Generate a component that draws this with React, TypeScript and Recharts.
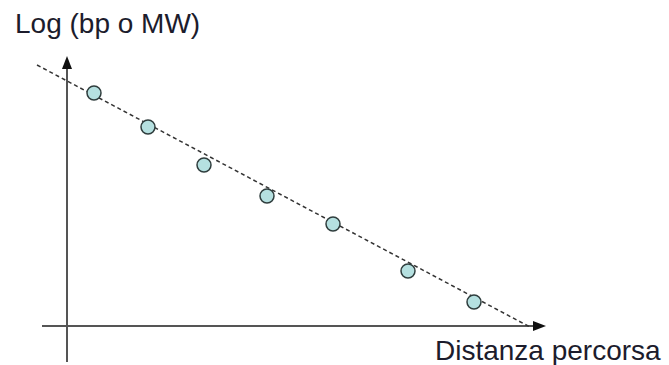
import React from "react";
import { ComposedChart, Scatter, XAxis, YAxis, ReferenceLine } from "recharts";

// distanza percorsa (x) vs log(bp o MW) (y), arbitrary units
const distanza = [2.7, 8.1, 13.7, 20.0, 26.6, 34.1, 40.7];
const logMW = [23.3, 19.9, 16.1, 13.0, 10.2, 5.5, 2.4];

// dashed fit line ends
const fitX = [-3.0, 46.3];
const fitY = [26.1, -0.1];

// axes extents
const xAxisRange = [-2.5, 47.9];
const yAxisRange = [-3.6, 27.0];

const yLabel = "Log (bp o MW)";
const xLabel = "Distanza percorsa";

const points = distanza.map((d, i) => ({ x: d, y: logMW[i] }));

const W = 669;
const H = 365;

const Dot = (props: any) => {
  const { cx, cy } = props;
  return <circle cx={cx} cy={cy} r={7} fill="#b5e0e0" stroke="#2f3d3d" strokeWidth={1.5} />;
};

const ArrowX = (props: any) => {
  const { x1, y1, x2, y2 } = props;
  return (
    <g>
      <line x1={x1} y1={y1} x2={x2 - 10} y2={y2} stroke="#555" strokeWidth={2} />
      <polygon points={`${x2},${y2} ${x2 - 13},${y2 - 5} ${x2 - 13},${y2 + 5}`} fill="#111" />
    </g>
  );
};

const ArrowY = (props: any) => {
  const { x1, y1, x2, y2 } = props;
  // y2 is the top end
  return (
    <g>
      <line x1={x1} y1={y1} x2={x2} y2={y2 + 10} stroke="#555" strokeWidth={2} />
      <polygon points={`${x2},${y2} ${x2 - 5},${y2 + 13} ${x2 + 5},${y2 + 13}`} fill="#111" />
    </g>
  );
};

export default function App() {
  return (
    <div style={{ position: "absolute", left: 0, top: 0, width: W, height: H, background: "#fff" }}>
      <ComposedChart width={W} height={H} data={points} margin={{ top: 0, right: 0, bottom: 0, left: 0 }}>
        <XAxis type="number" dataKey="x" domain={[-6.7, 60.2]} hide allowDataOverflow />
        <YAxis type="number" dataKey="y" domain={[-3.9, 32.6]} hide allowDataOverflow />
        <ReferenceLine
          segment={[{ x: xAxisRange[0], y: 0 }, { x: xAxisRange[1], y: 0 }]}
          shape={ArrowX}
          ifOverflow="visible"
        />
        <ReferenceLine
          segment={[{ x: 0, y: yAxisRange[0] }, { x: 0, y: yAxisRange[1] }]}
          shape={ArrowY}
          ifOverflow="visible"
        />
        <ReferenceLine
          segment={[{ x: fitX[0], y: fitY[0] }, { x: fitX[1], y: fitY[1] }]}
          stroke="#333"
          strokeWidth={1.5}
          strokeDasharray="4 3"
          ifOverflow="visible"
        />
        <Scatter data={points} dataKey="y" shape={Dot} isAnimationActive={false} />
      </ComposedChart>
      <svg width={W} height={H} style={{ position: "absolute", left: 0, top: 0, pointerEvents: "none" }}>
        <text x={15} y={33} fontFamily="Liberation Sans, Arial, sans-serif" fontSize={28} fill="#1c1c2c">
          {yLabel}
        </text>
        <text x={435} y={360} fontFamily="Liberation Sans, Arial, sans-serif" fontSize={28} fill="#1c1c2c">
          {xLabel}
        </text>
      </svg>
    </div>
  );
}
